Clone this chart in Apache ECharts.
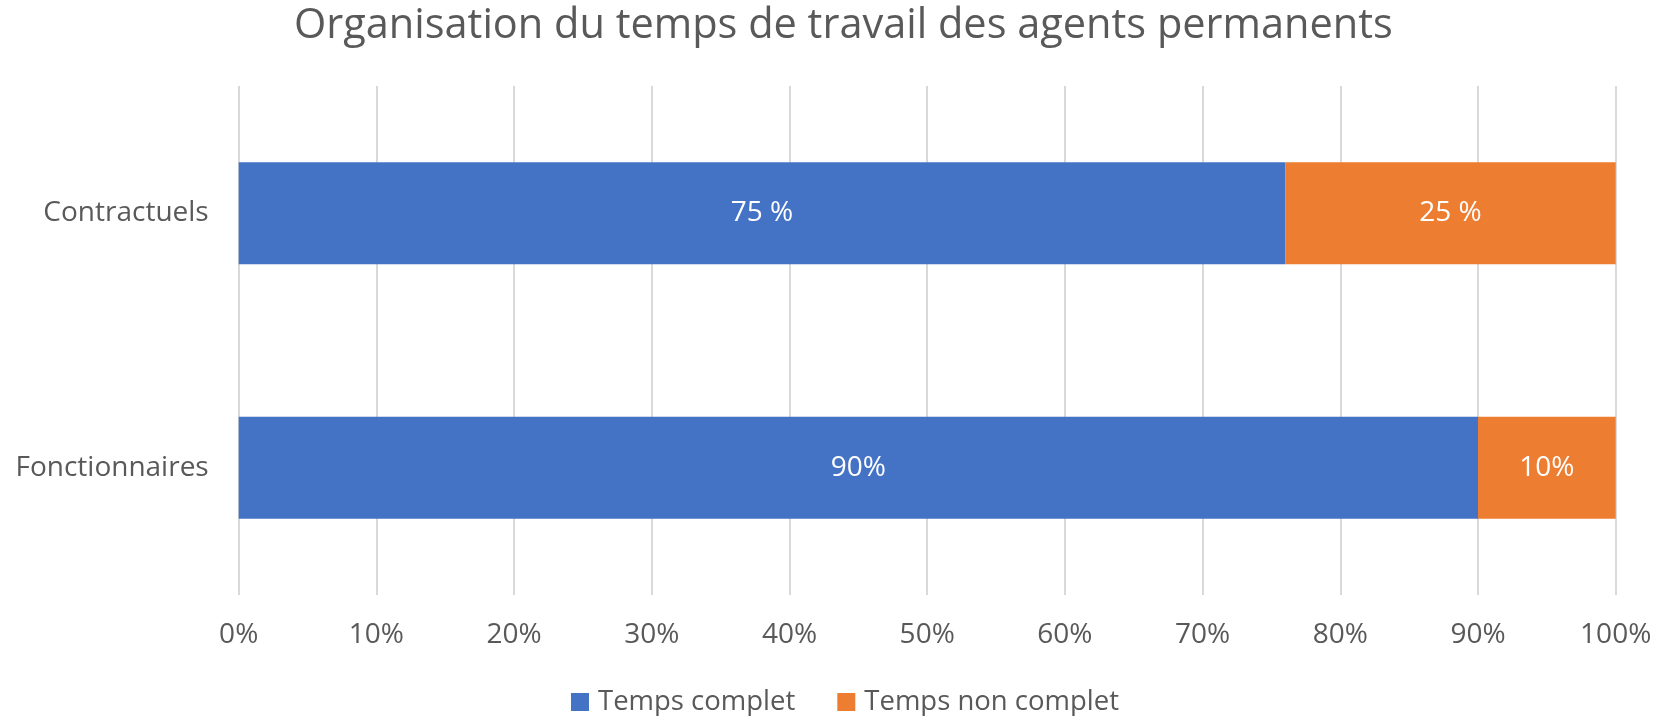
<!DOCTYPE html>
<html>
<head>
<meta charset="utf-8">
<script src="https://cdn.jsdelivr.net/npm/echarts@6/dist/echarts.min.js"></script>
<style>
html,body{margin:0;padding:0;background:#fff;}
#chart{width:1659px;height:716px;}
</style>
</head>
<body>
<div id="chart"></div>
<script>
const titleText = 'Organisation du temps de travail des agents permanents';
const categories = ['Fonctionnaires', 'Contractuels'];
const seriesNames = ['Temps complet', 'Temps non complet'];
const tempsComplet = [90, 76];
const tempsNonComplet = [10, 24];
const labelsComplet = ['90%', '75 %'];
const labelsNonComplet = ['10%', '25 %'];
const xTicks = [0, 10, 20, 30, 40, 50, 60, 70, 80, 90, 100];

const FONT = '"Open Sans", sans-serif';
const TXT = '#595959';

const chart = echarts.init(document.getElementById('chart'), null, {renderer: 'canvas'});
chart.setOption({
  animation: false,
  backgroundColor: '#ffffff',
  title: {
    text: titleText,
    left: 289,
    top: 0,
    textStyle: {fontFamily: FONT, fontSize: 41.5, fontWeight: 'normal', color: TXT}
  },
  legend: {
    data: seriesNames,
    left: 566,
    top: 683,
    itemWidth: 18,
    itemHeight: 18,
    itemGap: 42,
    icon: 'rect',
    textStyle: {fontFamily: FONT, fontSize: 27.5, color: TXT, padding: [0, 0, 0, 4]}
  },
  grid: {left: 238.7, right: 43.3, top: 86, bottom: 121, containLabel: false},
  xAxis: {
    type: 'value',
    min: xTicks[0],
    max: xTicks[xTicks.length - 1],
    interval: xTicks[1] - xTicks[0],
    axisLine: {show: false},
    axisTick: {show: false},
    splitLine: {show: true, lineStyle: {color: '#d9d9d9', width: 2}},
    axisLabel: {formatter: '{value}%', fontFamily: FONT, fontSize: 28, color: TXT, margin: 26}
  },
  yAxis: {
    type: 'category',
    data: categories,
    axisLine: {show: false},
    axisTick: {show: false},
    axisLabel: {fontFamily: FONT, fontSize: 28, color: TXT, margin: 30}
  },
  series: [
    {
      name: seriesNames[0],
      type: 'bar',
      stack: 'total',
      barWidth: '40%',
      itemStyle: {color: '#4472C4'},
      label: {show: true, position: 'inside', color: '#ffffff', fontFamily: FONT, fontSize: 28,
        formatter: p => labelsComplet[p.dataIndex]},
      data: tempsComplet
    },
    {
      name: seriesNames[1],
      type: 'bar',
      stack: 'total',
      barWidth: '40%',
      itemStyle: {color: '#ED7D31'},
      label: {show: true, position: 'inside', color: '#ffffff', fontFamily: FONT, fontSize: 28,
        formatter: p => labelsNonComplet[p.dataIndex]},
      data: tempsNonComplet
    }
  ]
});
</script>
</body>
</html>
